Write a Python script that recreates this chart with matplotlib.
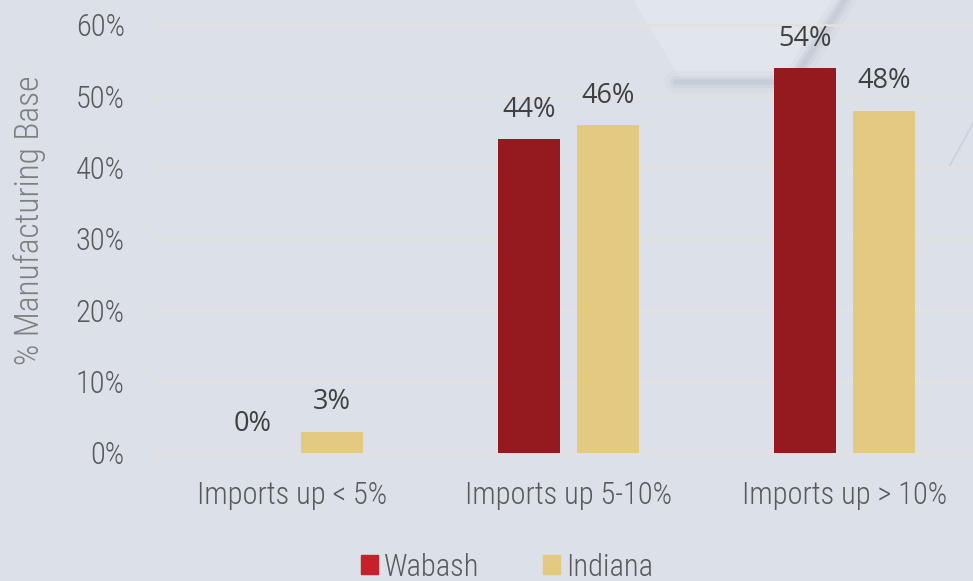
import numpy as np
import matplotlib.pyplot as plt
from matplotlib.patches import Polygon

categories = ["Imports up < 5%", "Imports up 5-10%", "Imports up > 10%"]
wabash = [0, 44, 54]
indiana = [3, 46, 48]
yticks = [0, 10, 20, 30, 40, 50, 60]

narrow = ["Roboto Condensed", "DejaVu Sans"]
W, H = 973, 581

bg = "#DCE0E9"
fig = plt.figure(figsize=(W / 100, H / 100), dpi=100, facecolor=bg)

# faint hexagon decoration in the background
bgax = fig.add_axes([0, 0, 1, 1], facecolor="none")
bgax.set_xlim(0, W)
bgax.set_ylim(H, 0)
bgax.axis("off")
for lw, a in ((16, 0.04), (9, 0.06), (4, 0.08)):
    bgax.plot([676, 792, 845], [82, 82, 0], color="#6E7A88", lw=lw, alpha=a, solid_capstyle="round")
bgax.add_patch(Polygon([(633, 0), (680, 78), (788, 78), (840, 0)], closed=True,
                       facecolor="#E1E5EC", edgecolor="none"))
bgax.plot([950, 975], [165, 120], color="#CBD1DA", lw=1.2)

ax = fig.add_axes([154.5 / W, 128 / H, (W - 154.5) / W, 428 / H], facecolor="none")

x = np.arange(len(categories))
off = 0.143
w = 0.2246
b1 = ax.bar(x - off, wabash, w, color="#951A1F", label="Wabash", zorder=3)
b2 = ax.bar(x + off, indiana, w, color="#E3CA80", label="Indiana", zorder=3)

# data labels above the bars
for bars, vals in ((b1, wabash), (b2, indiana)):
    for r, v in zip(bars, vals):
        ax.annotate(f"{v}%", (r.get_x() + r.get_width() / 2, v),
                    xytext=(0, 11), textcoords="offset points",
                    ha="center", va="bottom", fontsize=19.5,
                    family=["Open Sans", "DejaVu Sans"], color="#404040")

ax.set_xlim(-0.5, (W - 292.5) / 276)
ax.set_ylim(0, 60)
ax.set_yticks(yticks)
ax.set_yticklabels([f"{t}%" for t in yticks], family=narrow, fontsize=22,
                   fontweight="light", color="#595959")
ax.set_xticks(x)
ax.set_xticklabels(categories, family=narrow, fontsize=22, fontweight="light", color="#595959")
ax.tick_params(length=0)
ax.tick_params(axis="x", pad=20)
ax.tick_params(axis="y", pad=21.5)
ax.grid(axis="y", color="#E3E1DF", lw=2, zorder=0)
for g in ax.get_ygridlines():
    g.set_clip_on(False)
for s in ax.spines.values():
    s.set_visible(False)

ax.set_ylabel("% Manufacturing Base", family=narrow, fontsize=24, fontweight="light", color="#7F7F7F")
ax.yaxis.set_label_coords((46 - 154.5) / (W - 154.5), (453 - 220) / 428)

h1 = plt.Rectangle((0, 0), 1, 1, color="#C8202A")
h2 = plt.Rectangle((0, 0), 1, 1, color="#E3CA80")
fig.legend([h1, h2], ["Wabash", "Indiana"], loc="center", bbox_to_anchor=(507 / W, 1 - 567 / H),
           ncol=2, frameon=False, handlelength=0.56, handleheight=0.56, handletextpad=0.2,
           columnspacing=2.06, prop={"family": narrow, "size": 22, "weight": "light"},
           labelcolor="#595959")

fig.savefig("out.png", dpi=100, facecolor=bg)
